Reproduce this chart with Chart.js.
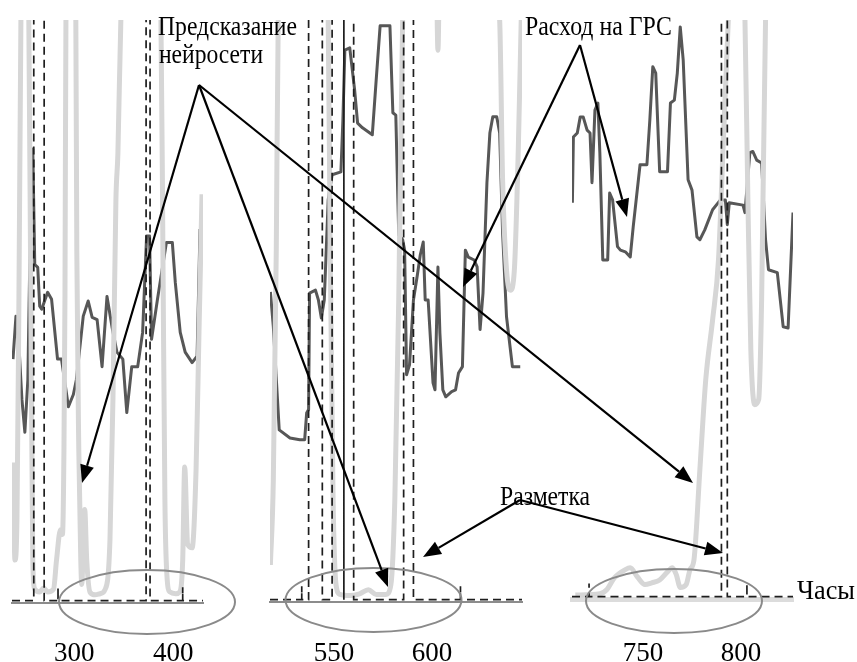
<!DOCTYPE html>
<html>
<head>
<meta charset="utf-8">
<script src="https://cdn.jsdelivr.net/npm/chart.js@4.4.1/dist/chart.umd.min.js"></script>
<style>
  html, body { margin: 0; padding: 0; background: #fff; overflow: hidden; }
  #wrap { position: relative; width: 857px; height: 662px; }
  #wrap canvas { position: absolute; left: 0; top: 0; }
</style>
</head>
<body>
<div id="wrap">
  <canvas id="panel1" width="857" height="662"></canvas>
  <canvas id="panel2" width="857" height="662"></canvas>
  <canvas id="panel3" width="857" height="662"></canvas>
</div>
<script>
// --- data (hours / relative level) ---

// panel 1
const flow1Hours = [238, 241, 244, 247, 250, 253, 256, 258, 260, 263, 265, 267, 273, 277, 283, 287, 294, 299, 302, 309, 314, 318, 323, 328, 333, 338, 343, 349, 353, 358, 364, 369, 373, 376, 378, 384, 393, 399, 402, 407, 412, 419, 424, 427];
const flow1Values = [41.6, 49, 44, 34.7, 29, 38, 69, 77.8, 57.9, 57.4, 50.7, 50.2, 53.1, 51.9, 41.6, 41.6, 33.4, 35.5, 38, 49, 51.6, 48.8, 48.4, 40.3, 52.4, 47.2, 42.8, 41.6, 32.4, 40.3, 40.3, 46.2, 62.8, 62.8, 45, 51.9, 61.7, 61.7, 54.8, 46.2, 42.8, 41, 42.1, 64];
const pred1Hours = [238, 240, 242, 244, 246, 250, 254, 256, 258, 260, 265, 269, 273, 279, 282, 286, 288, 289.5, 290.5, 291.5, 296.5, 301.5, 302.5, 304.5, 306.5, 307.5, 309.5, 310.5, 312.5, 316, 321, 326, 331, 336, 339, 342, 344, 347, 366, 387.5, 389.5, 391.5, 393.5, 396.5, 402.5, 406.5, 409.5, 411.5, 414.5, 419, 423, 426, 429];
const pred1Values = [23.8, 7, 14, 52, 100, 135, 100, 52, 7, 2, 1.5, 2.2, 1.5, 2, 7, 12.2, 11.4, 26, 52, 100, 135, 100, 60, 26, 7, 2.8, 13, 15.7, 7, 1.4, 1, 1.2, 1.9, 10.5, 34.7, 69, 77, 100, 135, 100, 60, 17.4, 4.5, 1.5, 1.2, 1.5, 7, 23, 9.7, 9.1, 22.6, 46.7, 70];
const mark1Start = [259, 372.5];
const mark1End = [269.5, 376.5];
const mark1Ticks = [283.5, 409.5];
const ticks1 = [300, 400];

// panel 2
const flow2Hours = [517.5, 519, 522, 527.5, 532.5, 535, 536, 537, 537.5, 540.5, 542, 543.5, 545, 547, 549, 553.5, 554.5, 555.5, 558, 560.5, 562, 564.5, 569.5, 571.5, 573.5, 578.5, 580, 581.5, 583, 585, 586, 587, 588.5, 590.5, 592.5, 594, 595.5, 596.5, 598, 600.5, 601.5, 603, 604, 605.5, 607, 610, 612, 613.5, 615.5, 617, 618.5, 621.5, 623, 624.5, 626, 628, 629.5, 631, 633, 634.5, 636, 638, 641, 645];
const flow2Values = [53.1, 47.1, 29.3, 27.9, 27.6, 27.6, 32.2, 32.8, 52.9, 53.4, 51.7, 48.6, 51.7, 69, 73.3, 73.8, 82.8, 94.8, 95.2, 87.9, 82.2, 81.4, 80.2, 89.7, 99, 99, 84, 83.6, 62.9, 62.1, 60.3, 38.8, 40.5, 51.7, 56, 59.5, 61.7, 51.7, 51.7, 37.4, 36.2, 57.4, 46, 36.2, 35, 35.9, 36.2, 39.1, 40.2, 60.3, 59.1, 58.6, 57.4, 46.6, 52.9, 71.9, 80.5, 83.3, 83.3, 80.5, 63.3, 48.8, 40.2, 40.2];
const pred2Hours = [517.5, 519, 520.5, 521.5, 534.5, 547, 548, 549.5, 551, 553, 558, 563, 567.5, 571.5, 576.5, 579, 581, 583, 585, 593, 601.5, 603, 604.5, 619.5, 634.5, 636, 638, 640, 642, 644, 645.5];
const pred2Values = [6, 20.7, 60.3, 100, 135, 100, 60.3, 17.2, 2.6, 0.9, 0.7, 1, 1.7, 0.9, 0.9, 2.6, 17.2, 51.7, 100, 135, 130, 94.8, 130, 135, 100, 72.4, 56.9, 53.4, 56.9, 77.6, 100];
const mark2Start = [537, 549, 555, 585.5];
const mark2End = [544, 555, 560, 590.5];
const mark2Ticks = [533.5, 614.5];
const ticks2 = [550, 600];

// panel 3
const flow3Hours = [714, 714.5, 716.5, 718, 719.5, 721.5, 723, 724, 725.5, 727, 728, 729.5, 732, 733, 734.5, 737, 738.5, 741, 743.5, 745, 748.5, 752, 753.5, 755, 756.5, 758.5, 762.5, 764, 766, 767.5, 769, 770.5, 773, 775, 777.5, 779, 781.5, 785.5, 789.5, 792, 793, 794, 801, 802, 804.5, 806, 808, 810.5, 812.5, 814, 818.5, 820, 821.5, 824, 826.5];
const flow3Values = [68.3, 79.7, 80.4, 83.2, 83.2, 80.9, 80.4, 71.8, 84.4, 85.6, 77, 58.4, 58.4, 70, 68.8, 60.7, 60.1, 59.8, 58.9, 64.1, 74.9, 74.9, 82.7, 91.9, 90.8, 73.7, 73.7, 85.6, 86.1, 90.8, 98.8, 93.1, 72.3, 70.5, 62.4, 61.9, 63.6, 67.1, 68.8, 68.8, 64.5, 68.3, 67.9, 66.6, 77, 77.2, 75.7, 75.2, 61.9, 56.7, 56.2, 51.5, 46.8, 46.6, 66.6];
const pred3Hours = [715.5, 728, 731.5, 735.5, 741, 743.5, 747, 751, 754.5, 758.5, 762.5, 765, 767, 769, 772, 774, 776, 779, 782, 785.5, 788.5, 791, 793.5, 798, 802, 803.5, 805, 807, 809, 810.5, 812.5, 820, 827.5];
const pred3Values = [0.3, 0.5, 1.2, 3.3, 4.7, 5, 3.5, 2.1, 2.4, 2.9, 4.3, 5, 3.8, 1.6, 2.1, 4.7, 6.4, 22, 37.6, 48, 58.4, 79.2, 100, 135, 100, 68.8, 42.8, 33.3, 34.2, 51.5, 100, 135, 135];
const mark3Start = [790];
const mark3End = [793];
const mark3Ticks = [722.5, 803];
const ticks3 = [750, 800];

const MARK_TOP = 130;     // markup pulses run off the top of the plot
const MARK_TICK = 2.3;    // short markup spikes at the base line

function zip(xs, ys) {
  return xs.map((x, i) => ({ x: x, y: ys[i] }));
}

// build the markup (label) line: zero with rectangular pulses and short spikes
function markupLine(min, max, starts, ends, spikes) {
  const events = [];
  starts.forEach((s, i) => events.push({ x: s, end: ends[i] }));
  spikes.forEach(s => events.push({ x: s, end: null }));
  events.sort((a, b) => a.x - b.x);
  const pts = [{ x: min, y: 0 }];
  events.forEach(e => {
    if (e.end !== null) {
      pts.push({ x: e.x, y: 0 }, { x: e.x, y: MARK_TOP }, { x: e.end, y: MARK_TOP }, { x: e.end, y: 0 });
    } else {
      pts.push({ x: e.x, y: 0 }, { x: e.x, y: MARK_TICK }, { x: e.x, y: 0 });
    }
  });
  pts.push({ x: max, y: 0 });
  return pts;
}

function makePanel(id, p, plugins) {
  return new Chart(document.getElementById(id), {
    type: 'line',
    data: {
      datasets: [
        {
          label: 'Разметка',
          data: markupLine(p.min, p.max, p.markStart, p.markEnd, p.markTicks),
          borderColor: '#1e1e1e',
          borderWidth: 1.7,
          borderDash: [8, 5],
          pointRadius: 0
        },
        {
          label: 'Предсказание нейросети',
          data: zip(p.predX, p.predY),
          borderColor: '#d6d6d6',
          borderWidth: 5,
          cubicInterpolationMode: 'monotone',
          pointRadius: 0
        },
        {
          label: 'Расход на ГРС',
          data: zip(p.flowX, p.flowY),
          borderColor: '#575757',
          borderWidth: 3,
          borderJoinStyle: 'round',
          tension: 0,
          pointRadius: 0
        }
      ]
    },
    options: {
      responsive: false,
      animation: false,
      events: [],
      layout: { padding: { left: p.left, right: 857 - p.right, top: 20, bottom: 0 } },
      plugins: { legend: { display: false }, tooltip: { enabled: false } },
      scales: {
        x: {
          type: 'linear',
          bounds: 'data',
          min: p.min,
          max: p.max,
          grid: { display: false, drawTicks: false },
          border: { display: true, color: p.axisColor, width: p.axisWidth },
          ticks: {
            font: { family: 'Liberation Serif', size: 27 },
            color: '#000',
            padding: p.tickPad,
            maxRotation: 0,
            autoSkip: false
          },
          afterBuildTicks: s => { s.ticks = p.ticks.map(v => ({ value: v })); },
          afterFit: s => { s.height = 662 - p.bottom; }
        },
        y: { display: false, min: -0.4, max: 100 }
      }
    },
    plugins: plugins || []
  });
}

// --- annotations: captions, arrows, ellipses ---
function arrow(ctx, x1, y1, x2, y2) {
  const a = Math.atan2(y2 - y1, x2 - x1);
  const len = 18, half = 7;
  const bx = x2 - len * Math.cos(a), by = y2 - len * Math.sin(a);
  ctx.beginPath();
  ctx.moveTo(x1, y1);
  ctx.lineTo(bx, by);
  ctx.stroke();
  ctx.beginPath();
  ctx.moveTo(x2, y2);
  ctx.lineTo(bx + half * Math.sin(a), by - half * Math.cos(a));
  ctx.lineTo(bx - half * Math.sin(a), by + half * Math.cos(a));
  ctx.closePath();
  ctx.fill();
}

function fitText(ctx, text, x, y, width, size) {
  ctx.font = size + 'px "Liberation Serif"';
  const w = ctx.measureText(text).width;
  ctx.save();
  ctx.translate(x, y);
  ctx.scale(width / w, 1);
  ctx.fillText(text, 0, 0);
  ctx.restore();
}

const annotations = {
  id: 'annotations',
  afterDraw(chart) {
    const ctx = chart.ctx;
    ctx.save();

    // ellipses round the base lines
    ctx.strokeStyle = '#8a8a8a';
    ctx.lineWidth = 2;
    [[147, 602], [373.5, 600], [674, 601]].forEach(c => {
      ctx.beginPath();
      ctx.ellipse(c[0], c[1], 88, 32, 0, 0, Math.PI * 2);
      ctx.stroke();
    });

    // arrows
    ctx.strokeStyle = '#000';
    ctx.fillStyle = '#000';
    ctx.lineWidth = 2.2;
    arrow(ctx, 199, 85, 82, 483);
    arrow(ctx, 199, 85, 388, 587);
    arrow(ctx, 199, 85, 693, 483);
    arrow(ctx, 580, 45, 463, 287);
    arrow(ctx, 580, 45, 627, 217);
    arrow(ctx, 520, 500, 423, 557);
    arrow(ctx, 520, 500, 723, 553);

    // captions
    ctx.fillStyle = '#000';
    ctx.textBaseline = 'alphabetic';
    fitText(ctx, 'Предсказание', 158, 35, 139, 27);
    fitText(ctx, 'нейросети', 159, 63, 104, 27);
    fitText(ctx, 'Расход на ГРС', 525, 35, 147, 27);
    fitText(ctx, 'Разметка', 500, 505, 90, 27);
    fitText(ctx, 'Часы', 797, 599, 58, 28);

    ctx.restore();
  }
};

makePanel('panel1', {
  left: 12, right: 203, bottom: 603, min: 237, max: 430, tickPad: 35,
  axisColor: '#8c8c8c', axisWidth: 2,
  flowX: flow1Hours, flowY: flow1Values, predX: pred1Hours, predY: pred1Values,
  markStart: mark1Start, markEnd: mark1End, markTicks: mark1Ticks, ticks: ticks1
});

makePanel('panel2', {
  left: 270, right: 522, bottom: 602, min: 517.3, max: 645.9, tickPad: 36,
  axisColor: '#8c8c8c', axisWidth: 2,
  flowX: flow2Hours, flowY: flow2Values, predX: pred2Hours, predY: pred2Values,
  markStart: mark2Start, markEnd: mark2End, markTicks: mark2Ticks, ticks: ticks2
});

makePanel('panel3', {
  left: 572, right: 793, bottom: 599, min: 713.8, max: 826.5, tickPad: 39,
  axisColor: '#dcdcdc', axisWidth: 5,
  flowX: flow3Hours, flowY: flow3Values, predX: pred3Hours, predY: pred3Values,
  markStart: mark3Start, markEnd: mark3End, markTicks: mark3Ticks, ticks: ticks3
}, [annotations]);
</script>
</body>
</html>
